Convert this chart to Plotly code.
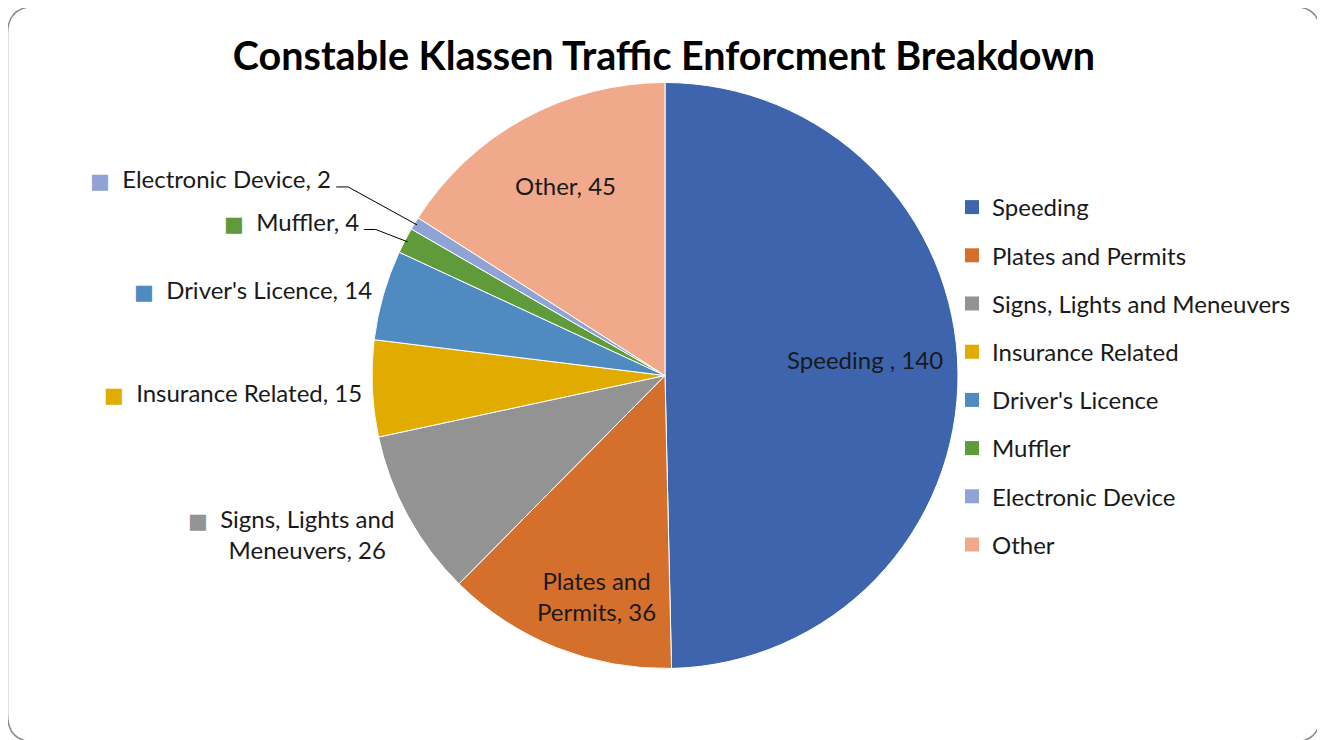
import math
import plotly.graph_objects as go

# ---- data ----
categories = ["Speeding", "Plates and Permits", "Signs, Lights and Meneuvers",
              "Insurance Related", "Driver's Licence", "Muffler",
              "Electronic Device", "Other"]
label_lines = [["Speeding "], ["Plates and", "Permits"], ["Signs, Lights and", "Meneuvers"],
               ["Insurance Related"], ["Driver's Licence"], ["Muffler"],
               ["Electronic Device"], ["Other"]]
values = [140, 36, 26, 15, 14, 4, 2, 45]
colors = ["#3E64AD", "#D4702C", "#939393", "#E2AB00",
          "#4F8AC0", "#5F9A3B", "#8FA3D5", "#F0A98A"]
title_text = "Constable Klassen Traffic Enforcment Breakdown"

# ---- layout constants (page pixel coords) ----
W, H = 1325, 740
OFF = 8  # default page body margin
CX, CY, R = 665, 375.5, 293
FONT = "Lato, Calibri, Carlito, sans-serif"
FS = 24

def px(x):
    return (x - OFF) / W

def py(y):
    return 1 - (y - OFF) / H

# label placement: (mode, radius factor, dx shift, dy shift down, leader)
label_cfg = [
    ("in", 0.683, 0, -14, False),
    ("in", 0.785, 17, 7, False),
    ("out", 1.05, 1, 11, False),
    ("out", 1.035, 2, 3, False),
    ("out", 1.04, 2, -2, False),
    ("out", 1.17, 0, 4, True),
    ("out", 1.325, 0, 5, True),
    ("in", 0.73, 3, -2, False),
]

fig = go.Figure()
fig.add_trace(go.Pie(
    labels=categories, values=values, sort=False, direction="clockwise",
    rotation=0, marker=dict(colors=colors, line=dict(color="white", width=1)),
    textinfo="none", hoverinfo="label+value", showlegend=False,
    domain=dict(x=[px(CX - R), px(CX + R)], y=[py(CY + R), py(CY - R)]),
))

# legend via dummy traces
for i, (cat, col) in enumerate(zip(categories, colors)):
    fig.add_trace(go.Scatter(
        x=[None], y=[None], mode="markers", name=cat,
        marker=dict(symbol="square", size=14, color=col),
        legendgroup="g%d" % i, showlegend=True,
    ))

SQ = '<span style="color:%s;font-size:21px;font-family:DejaVu Sans">■</span>  '

annotations = []
shapes = []
total = sum(values)
cum = 0
for i, v in enumerate(values):
    mid = (cum + v / 2) / total * 2 * math.pi
    cum += v
    mode, fac, dx, dy, leader = label_cfg[i]
    s, c = math.sin(mid), math.cos(mid)
    x = CX + fac * R * s + dx
    y = CY - fac * R * c + dy
    lines = list(label_lines[i])
    lines[-1] = "%s, %d" % (lines[-1], v)
    if mode == "in":
        annotations.append(dict(
            x=px(x), y=py(y), xref="paper", yref="paper",
            text="<br>".join(lines), showarrow=False,
            xanchor="center", yanchor="middle", align="center",
            font=dict(family=FONT, size=FS, color="#1a1a1a")))
    else:
        parts = [(SQ % colors[i]) + lines[0]]
        for ln in lines[1:]:
            parts.append((SQ % "rgba(0,0,0,0)") + ln)
        annotations.append(dict(
            x=px(x), y=py(y), xref="paper", yref="paper",
            text="<br>".join(parts), showarrow=False,
            xanchor="right", yanchor="middle", align="center",
            font=dict(family=FONT, size=FS, color="#1a1a1a")))
        if leader:
            x0, y0 = x + 3, y + 8
            x1 = x0 + 12
            ex, ey = CX + R * 0.99 * s, CY - R * 0.99 * c
            shapes.append(dict(
                type="path", xref="paper", yref="paper",
                path="M %f,%f L %f,%f L %f,%f" % (px(x0), py(y0), px(x1), py(y0), px(ex), py(ey)),
                line=dict(color="black", width=1)))

# outer rounded frame
fx0, fy0, fx1, fy1, rr = 7.5, 6.5, 1320.5, 742, 28
frame_path = ("M %f,%f L %f,%f Q %f,%f %f,%f L %f,%f Q %f,%f %f,%f "
              "L %f,%f Q %f,%f %f,%f L %f,%f Q %f,%f %f,%f Z") % (
    px(fx0 + rr), py(fy0), px(fx1 - rr), py(fy0), px(fx1), py(fy0), px(fx1), py(fy0 + rr),
    px(fx1), py(fy1 - rr), px(fx1), py(fy1), px(fx1 - rr), py(fy1),
    px(fx0 + rr), py(fy1), px(fx0), py(fy1), px(fx0), py(fy1 - rr),
    px(fx0), py(fy0 + rr), px(fx0), py(fy0), px(fx0 + rr), py(fy0))
shapes.append(dict(type="path", xref="paper", yref="paper", path=frame_path,
                   line=dict(color="#8c8c8c", width=1.5), layer="below"))

fig.update_layout(
    width=W, height=H, margin=dict(l=0, r=0, t=0, b=0),
    paper_bgcolor="white", plot_bgcolor="white",
    title=dict(text="<b>%s</b>" % title_text, x=px(664), xanchor="center",
               y=py(56), yanchor="middle",
               font=dict(family=FONT, size=39.5, color="black")),
    xaxis=dict(visible=False), yaxis=dict(visible=False),
    legend=dict(x=px(952), y=py(185), xanchor="left", yanchor="top",
                font=dict(family=FONT, size=FS, color="#1a1a1a"),
                tracegroupgap=14, bgcolor="rgba(0,0,0,0)"),
    annotations=annotations, shapes=shapes,
)

fig.write_html("out.html")
